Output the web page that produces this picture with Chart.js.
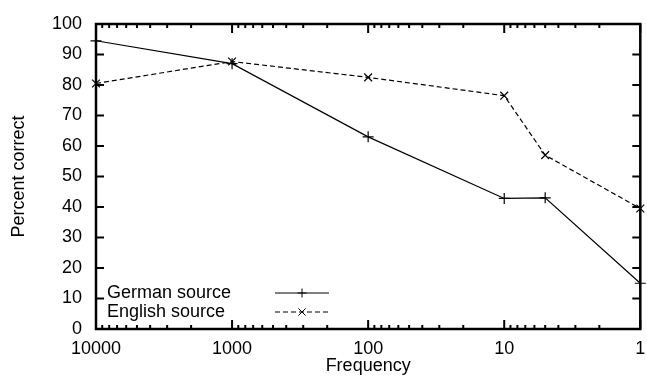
<!DOCTYPE html>
<html>
<head>
<meta charset="utf-8">
<script src="https://cdn.jsdelivr.net/npm/chart.js@4"></script>
<style>
  html, body { margin: 0; padding: 0; background: #fff; }
  #wrap { width: 647px; height: 383px; }
</style>
</head>
<body>
<div id="wrap"><canvas id="chart" width="647" height="383"></canvas></div>
<script>
// Frequency bins (x, log scale, reversed)
const frequencies = [10000, 1000, 100, 10, 5, 1];
// Percent correct per source language
const germanSource = [94.5, 87, 63, 42.8, 43, 15];
const englishSource = [80.5, 87.7, 82.5, 76.5, 57, 39.5];
const seriesLabels = ["German source", "English source"];
const yTicks = [0, 10, 20, 30, 40, 50, 60, 70, 80, 90, 100];

const FONT = "'Liberation Sans', Arial, Helvetica, sans-serif";

// gnuplot style frame with inward ticks + legend with sample on the right
const framePlugin = {
  id: "frame",
  afterDraw(chart) {
    const { ctx, chartArea: a, scales } = chart;
    const x = scales.x, y = scales.y;
    ctx.save();
    ctx.strokeStyle = "#000";

    // ticks
    ctx.lineWidth = 2;
    ctx.beginPath();
    yTicks.forEach(v => {
      const py = y.getPixelForValue(v);
      ctx.moveTo(a.left, py); ctx.lineTo(a.left + 8, py);
      ctx.moveTo(a.right, py); ctx.lineTo(a.right - 8, py);
    });
    for (let dec = 1; dec < 10000; dec *= 10) {
      for (let m = 1; m < 10; m++) {
        const px = x.getPixelForValue(dec * m);
        const len = m === 1 ? 9 : 4;
        ctx.moveTo(px, a.bottom); ctx.lineTo(px, a.bottom - len);
        ctx.moveTo(px, a.top); ctx.lineTo(px, a.top + len);
      }
    }
    const pEnd = x.getPixelForValue(10000);
    ctx.moveTo(pEnd, a.bottom); ctx.lineTo(pEnd, a.bottom - 9);
    ctx.stroke();

    // frame
    ctx.lineWidth = 2.5;
    ctx.strokeRect(a.left, a.top, a.right - a.left, a.bottom - a.top);

    // legend
    ctx.font = "18px " + FONT;
    ctx.fillStyle = "#000";
    ctx.textBaseline = "middle";
    ctx.textAlign = "left";
    chart.data.datasets.forEach((ds, i) => {
      const ly = 293 + i * 19;
      ctx.fillText(ds.label, 107, ly);
      ctx.lineWidth = 1;
      ctx.setLineDash(ds.borderDash || []);
      ctx.beginPath();
      ctx.moveTo(275, ly); ctx.lineTo(329, ly);
      ctx.stroke();
      ctx.setLineDash([]);
      ctx.beginPath();
      const r = 4.5;
      if (ds.pointStyle === "cross") {
        ctx.moveTo(302 - r, ly); ctx.lineTo(302 + r, ly);
        ctx.moveTo(302, ly - r); ctx.lineTo(302, ly + r);
      } else {
        ctx.moveTo(302 - r * 0.8, ly - r * 0.8); ctx.lineTo(302 + r * 0.8, ly + r * 0.8);
        ctx.moveTo(302 + r * 0.8, ly - r * 0.8); ctx.lineTo(302 - r * 0.8, ly + r * 0.8);
      }
      ctx.stroke();
    });
    ctx.restore();
  }
};

new Chart(document.getElementById("chart"), {
  type: "line",
  data: {
    datasets: [
      {
        label: seriesLabels[0],
        data: frequencies.map((f, i) => ({ x: f, y: germanSource[i] })),
        borderColor: "#000",
        borderWidth: 1.2,
        pointStyle: "cross",
        pointRadius: 5.5,
        pointBorderColor: "#000",
        pointBorderWidth: 1.2,
        tension: 0,
        clip: false
      },
      {
        label: seriesLabels[1],
        data: frequencies.map((f, i) => ({ x: f, y: englishSource[i] })),
        borderColor: "#000",
        borderWidth: 1.2,
        borderDash: [5, 3],
        pointStyle: "crossRot",
        pointRadius: 5.5,
        pointBorderColor: "#000",
        pointBorderWidth: 1.2,
        tension: 0,
        clip: false
      }
    ]
  },
  options: {
    responsive: false,
    animation: false,
    layout: { padding: { top: 24, right: 5, left: 0, bottom: 0 } },
    plugins: { legend: { display: false }, tooltip: { enabled: false } },
    scales: {
      x: {
        type: "logarithmic",
        reverse: true,
        min: 1,
        max: 10000,
        afterFit: s => { s.height = 54; s.paddingLeft = 0; s.paddingRight = 0; },
        afterBuildTicks: s => {
          s.ticks = [10000, 1000, 100, 10, 1].map(v => ({ value: v }));
        },
        grid: { display: false, drawTicks: false },
        border: { display: false },
        ticks: {
          autoSkip: false,
          maxRotation: 0,
          padding: 9,
          color: "#000",
          font: { family: FONT, size: 18 },
          callback: v => String(v)
        },
        title: {
          display: true,
          text: "Frequency",
          color: "#000",
          font: { family: FONT, size: 18 },
          padding: { top: 0, bottom: 6 }
        }
      },
      y: {
        min: 0,
        max: 100,
        afterFit: s => { s.width = 96; s.paddingTop = 0; s.paddingBottom = 0; },
        afterBuildTicks: s => {
          s.ticks = yTicks.map(v => ({ value: v }));
        },
        grid: { display: false, drawTicks: false },
        border: { display: false },
        ticks: {
          padding: 14,
          color: "#000",
          font: { family: FONT, size: 18 }
        },
        title: {
          display: true,
          text: "Percent correct",
          color: "#000",
          font: { family: FONT, size: 18 },
          padding: { top: 8, bottom: 0 }
        }
      }
    }
  },
  plugins: [framePlugin]
});
</script>
</body>
</html>
